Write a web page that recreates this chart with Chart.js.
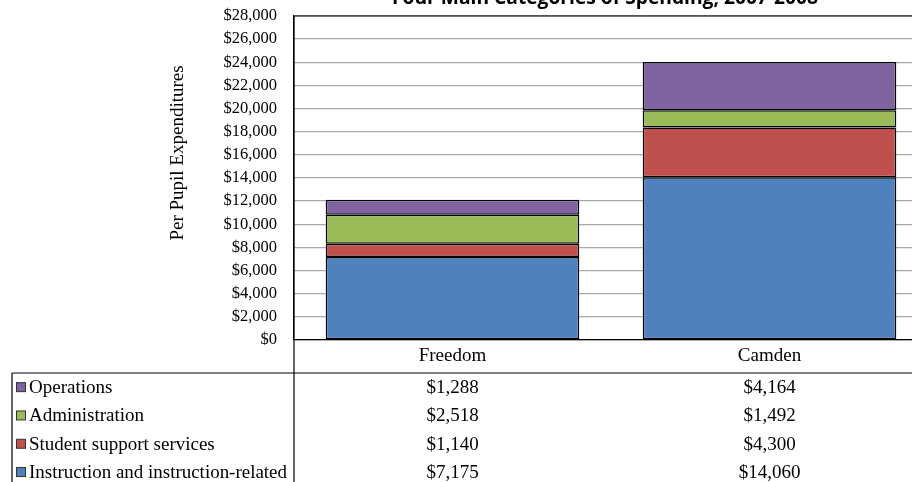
<!DOCTYPE html>
<html>
<head>
<meta charset="utf-8">
<script src="https://cdn.jsdelivr.net/npm/chart.js@4/dist/chart.umd.min.js"></script>
<style>
  html, body { margin: 0; padding: 0; background: #fff; overflow: hidden; }
  #wrap { position: relative; width: 930px; height: 482px; }
</style>
</head>
<body>
<div id="wrap"><canvas id="c" width="930" height="482"></canvas></div>
<script>
const chartTitle = 'Four Main Categories of Spending, 2007-2008';
const yAxisTitle = 'Per Pupil Expenditures';
const categories = ['Freedom', 'Camden'];
const seriesNames = ['Instruction and instruction-related', 'Student support services', 'Administration', 'Operations'];
const instruction = [7175, 14060];
const studentSupport = [1140, 4300];
const administration = [2518, 1492];
const operations = [1288, 4164];
const seriesColors = ['#4F81BD', '#C0504D', '#9BBB59', '#8064A2'];
const yMin = 0, yMax = 28000, yStep = 2000;

const seriesValues = [instruction, studentSupport, administration, operations];
const money = v => '$' + Number(v).toLocaleString('en-US');

const SERIF = '"Liberation Serif", "Times New Roman", serif';

const tablePlugin = {
  id: 'tablePlugin',
  afterDraw(chart) {
    const ctx = chart.ctx;
    const area = chart.chartArea;
    const xs = chart.scales.x;
    const W = chart.width, H = chart.height;
    const axisX = area.left;
    const tableTop = 373;
    const tableLeft = 12;
    const rowH = 28.3;

    ctx.save();
    ctx.strokeStyle = '#000';
    ctx.lineWidth = 1.2;
    ctx.beginPath();
    ctx.moveTo(axisX, area.top); ctx.lineTo(area.right, area.top);
    ctx.stroke();
    ctx.beginPath();
    ctx.moveTo(axisX, area.top); ctx.lineTo(axisX, H);
    ctx.stroke();
    ctx.beginPath();
    ctx.moveTo(tableLeft, tableTop); ctx.lineTo(W, tableTop);
    ctx.stroke();
    ctx.beginPath();
    ctx.moveTo(tableLeft, tableTop); ctx.lineTo(tableLeft, H);
    ctx.stroke();

    ctx.fillStyle = '#000';
    ctx.font = '19px ' + SERIF;
    ctx.textAlign = 'center';
    ctx.textBaseline = 'middle';
    categories.forEach((c, i) => {
      ctx.fillText(c, xs.getPixelForValue(i), 356);
    });

    const order = [3, 2, 1, 0];
    order.forEach((si, r) => {
      const cy = tableTop + (r + 0.5) * rowH;
      ctx.fillStyle = seriesColors[si];
      ctx.fillRect(16.5, cy - 4.5, 9, 9);
      ctx.strokeStyle = '#333';
      ctx.lineWidth = 1;
      ctx.strokeRect(16.5, cy - 4.5, 9, 9);
      ctx.fillStyle = '#000';
      ctx.textAlign = 'left';
      ctx.font = '19px ' + SERIF;
      ctx.fillText(seriesNames[si], 29, cy + 1, 258);
      ctx.textAlign = 'center';
      seriesValues[si].forEach((v, ci) => {
        ctx.fillText(money(v), xs.getPixelForValue(ci), cy + 1);
      });
    });

    ctx.save();
    ctx.translate(178, 153);
    ctx.rotate(-Math.PI / 2);
    ctx.font = '19px ' + SERIF;
    ctx.textAlign = 'center';
    ctx.textBaseline = 'middle';
    ctx.fillText(yAxisTitle, 0, 0);
    ctx.restore();

    ctx.font = 'bold 20px "Open Sans", "Liberation Sans", sans-serif';
    ctx.textAlign = 'center';
    ctx.textBaseline = 'alphabetic';
    ctx.fillText(chartTitle, 605, 3.5, 426);
    ctx.restore();
  }
};

new Chart(document.getElementById('c'), {
  type: 'bar',
  data: {
    labels: categories,
    datasets: seriesNames.map((name, i) => ({
      label: name,
      data: seriesValues[i],
      backgroundColor: seriesColors[i],
      borderColor: '#000',
      borderWidth: 1.5,
      borderSkipped: false,
      categoryPercentage: 0.8,
      barPercentage: 1.0
    }))
  },
  options: {
    responsive: false,
    animation: false,
    devicePixelRatio: 1,
    layout: { padding: { top: 16, right: 2, left: 0, bottom: 0 } },
    plugins: {
      legend: { display: false },
      title: { display: false },
      tooltip: { enabled: false }
    },
    scales: {
      x: {
        stacked: true,
        grid: { display: false, drawTicks: false },
        border: { display: true, color: '#000', width: 1.2 },
        ticks: { display: false },
        afterFit(scale) { scale.height = 142; }
      },
      y: {
        stacked: true,
        min: yMin, max: yMax,
        grid: { color: '#a8a8a8', lineWidth: 1.3, drawTicks: true, tickLength: 14, tickColor: 'rgba(0,0,0,0)' },
        border: { display: true, color: '#000', width: 1.2 },
        ticks: {
          stepSize: yStep,
          autoSkip: false,
          padding: 3,
          color: '#000',
          font: { family: SERIF, size: 16.5 },
          callback: v => money(v)
        },
        afterFit(scale) { scale.width = 294; }
      }
    }
  },
  plugins: [tablePlugin]
});
</script>
</body>
</html>
